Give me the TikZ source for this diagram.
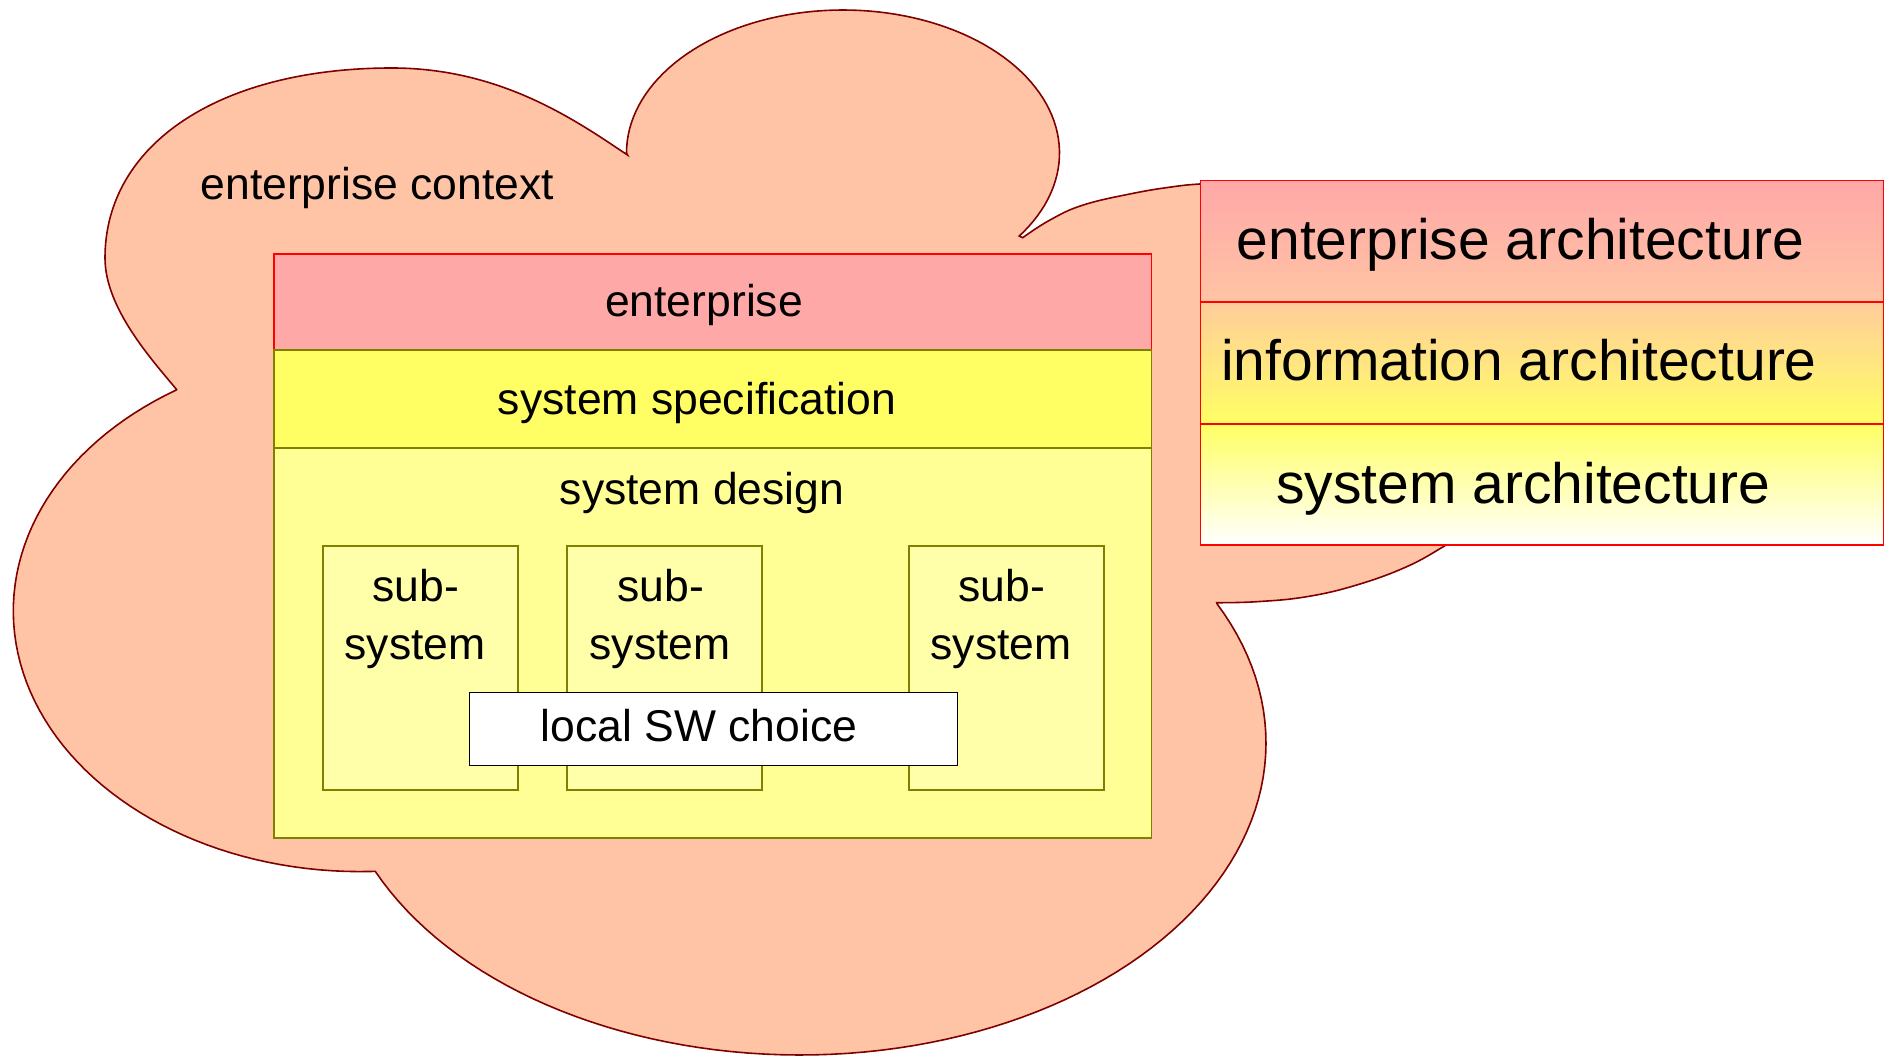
\documentclass[tikz,border=0pt]{standalone}
\usepackage{fontspec}
\setmainfont{Liberation Sans}
\definecolor{cloudfill}{RGB}{255,196,166}
\definecolor{cloudedge}{RGB}{128,0,0}
\definecolor{entpink}{RGB}{255,168,168}
\definecolor{specyellow}{RGB}{255,255,100}
\definecolor{designyellow}{RGB}{255,255,150}
\definecolor{subyellow}{RGB}{255,255,170}
\definecolor{olive}{RGB}{128,128,0}
\definecolor{boxred}{RGB}{255,0,0}
\definecolor{peach}{RGB}{255,196,164}
\definecolor{peachtop}{RGB}{255,205,155}
\definecolor{yel}{RGB}{255,255,100}
\begin{document}
\begin{tikzpicture}[x=1pt,y=-1pt,
  cloudshape/.style={draw=cloudedge,fill=cloudfill,line width=1.6pt,line join=miter},
  bandred/.style={draw=boxred,line width=1.8pt},
  bandolive/.style={draw=olive,line width=1.8pt},
  smalltxt/.style={font=\fontsize{44.5}{57}\selectfont,anchor=base,inner sep=0pt},
  bigtxt/.style={font=\fontsize{57}{68}\selectfont,anchor=base west,inner sep=0pt}]
\useasboundingbox (0,0) rectangle (1885,1056);
% cloud
\path[cloudshape]
  (177,390) .. controls (151.4,359.3) and (105,308) .. (105,258)
  .. controls (105,144) and (219.8,68) .. (392,68)
  .. controls (502,68) and (577.5,121.7) .. (627.5,155)
  -- plot[domain=180:395.5,samples=90] ({843+216.5*cos(\x)},{153+143*sin(\x)})
  -- plot[smooth,tension=0.7] coordinates {(1022.7,237.7) (1050,220) (1083.3,205) (1133.3,193.3) (1173.3,186.7) (1200,184) (1230,182.8)}
  -- (1400,300) -- (1470,530)
  -- plot[smooth,tension=0.7] coordinates {(1470,530) (1445,545.7) (1406.7,566.7) (1356.7,585) (1306.7,596.7) (1256.7,601.7) (1216.7,602.7)}
  -- plot[domain=-26.5:155.7,samples=90] ({800+466*cos(\x)},{743+312*sin(\x)})
  -- plot[domain=88:238.1,samples=70] ({360+346.7*cos(\x)},{611+260.6*sin(\x)})
  -- cycle;
\node[smalltxt] (ctx) at (377.4,199.3) {enterprise context};
% main box
\path[bandred,fill=entpink] (274,254) rectangle (1151.5,350);
\path[bandolive,fill=specyellow] (274,350) rectangle (1151.5,448);
\path[bandolive,fill=designyellow] (274,448) rectangle (1151.5,838);
\draw[boxred,line width=1.8pt] (274,254) -- (1151.5,254);
\node[smalltxt] (ent) at (704,316.5) {enterprise};
\node[smalltxt] (spec) at (697,414) {system specification};
\node[smalltxt] (des) at (702,504) {system design};
% sub-systems
\path[draw=olive,line width=1.5pt,fill=subyellow] (323,546) rectangle (518,790);
\path[draw=olive,line width=1.5pt,fill=subyellow] (567,546) rectangle (762,790);
\path[draw=olive,line width=1.5pt,fill=subyellow] (909,546) rectangle (1104,790);
\node[smalltxt] (s1a) at (416,601.7) {sub-};
\node[smalltxt] (s1b) at (415,659) {system};
\node[smalltxt] (s2a) at (661,601.7) {sub-};
\node[smalltxt] (s2b) at (660,659) {system};
\node[smalltxt] (s3a) at (1002,601.7) {sub-};
\node[smalltxt] (s3b) at (1001,659) {system};
% local SW choice
\path[draw=black,line width=1.6pt,fill=white] (469.5,692.5) rectangle (957.5,765.5);
\node[smalltxt] (sw) at (699,741) {local SW choice};
% right box
\path[top color=entpink,bottom color=peach] (1200.5,180.5) rectangle (1883.5,302);
\path[top color=peachtop,bottom color=yel] (1200.5,302) rectangle (1883.5,424);
\path[top color=yel,bottom color=white] (1200.5,424) rectangle (1883.5,545);
\draw[boxred,line width=1.8pt] (1200.5,180.5) rectangle (1883.5,545);
\draw[boxred,line width=1.8pt] (1200.5,302) -- (1883.5,302);
\draw[boxred,line width=1.8pt] (1200.5,424) -- (1883.5,424);
\node[bigtxt] (ea) at (1236.5,260) {enterprise architecture};
\node[bigtxt] (ia) at (1221,381) {information architecture};
\node[bigtxt] (sa) at (1276,503) {system architecture};
\end{tikzpicture}
\end{document}
